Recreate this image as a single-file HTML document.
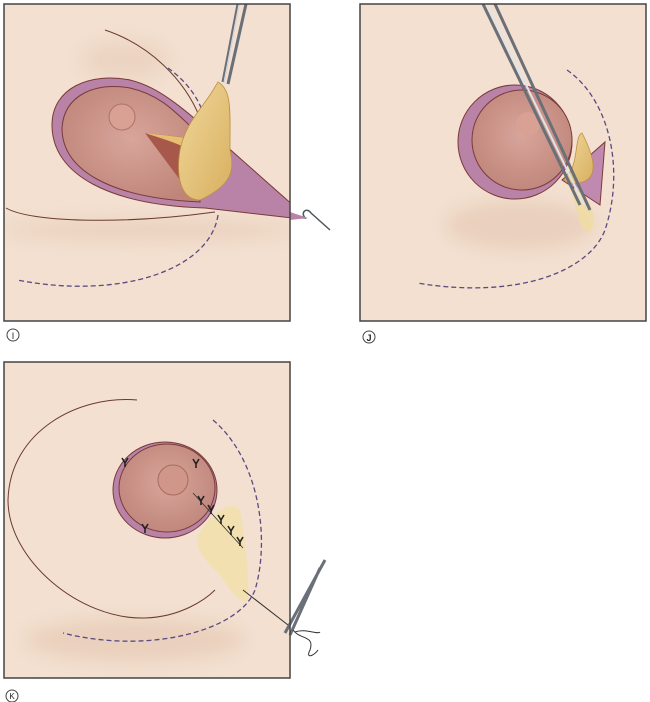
<!DOCTYPE html>
<html><head><style>
html,body{margin:0;padding:0;background:#fff;width:650px;height:702px;overflow:hidden}
svg{display:block}
text{font-family:"Liberation Sans",sans-serif}
</style></head><body>
<svg width="650" height="702" viewBox="0 0 650 702" xmlns="http://www.w3.org/2000/svg">
<defs>
<filter id="b4" x="-50%" y="-200%" width="200%" height="500%"><feGaussianBlur stdDeviation="9"/></filter>
<radialGradient id="ar" cx="0.5" cy="0.45" r="0.6"><stop offset="0" stop-color="#d8a59a"/><stop offset="1" stop-color="#bf857a"/></radialGradient>
<linearGradient id="fat" x1="0" y1="0" x2="1" y2="1"><stop offset="0" stop-color="#f0d79a"/><stop offset="1" stop-color="#d8b060"/></linearGradient>
<clipPath id="cI"><rect x="4" y="4" width="286" height="317"/></clipPath>
<clipPath id="cJ"><rect x="360" y="4" width="286" height="317"/></clipPath>
<clipPath id="cK"><rect x="4" y="362" width="286" height="316"/></clipPath>
</defs>

<!-- Panel I -->
<rect x="4" y="4" width="286" height="317" fill="#f3e0d0"/>
<g clip-path="url(#cI)">
<ellipse cx="150" cy="230" rx="150" ry="10" fill="#ead0bd" filter="url(#b4)"/>
<ellipse cx="125" cy="60" rx="45" ry="20" fill="#ecd4c2" filter="url(#b4)"/>
<path d="M105,30 C150,45 185,80 200,118" fill="none" stroke="#6a3a30" stroke-width="1"/>
<path d="M6,208 C30,222 120,225 215,212" fill="none" stroke="#6a3a30" stroke-width="1"/>
<path d="M168,68 C182,78 195,92 202,110" fill="none" stroke="#5a4a80" stroke-width="1.3" stroke-dasharray="5,3"/>
<path d="M218,215 C210,270 120,300 17,280" fill="none" stroke="#5a4a80" stroke-width="1.3" stroke-dasharray="5,3"/>
<path d="M310,220 L205,208 C110,205 52,175 52,125 C52,88 90,72 130,80 C170,90 195,120 310,220 Z" fill="#b983a8" stroke="#7a3a38" stroke-width="1"/>
<path d="M200,202 C110,198 62,170 62,128 C64,95 95,82 130,88 C165,96 180,118 200,135 Z" fill="url(#ar)" stroke="#7a3a38" stroke-width="1"/>
<path d="M145,133 L190,138 L195,200 Z" fill="#a8584a"/>
<path d="M145,133 C160,138 175,142 190,150 L188,138 Z" fill="#e6c070"/>
<circle cx="122" cy="117" r="13" fill="#d9a094" stroke="#b0706a" stroke-width="1"/>
<path d="M218,82 C232,90 230,110 230,150 C235,170 232,185 200,200 C180,200 176,175 180,150 C185,125 200,110 210,95 Z" fill="url(#fat)" stroke="#c09040" stroke-width="0.8"/>
<path d="M223,82 L238,4 M228,84 L246,4" stroke="#6a6f78" stroke-width="3"/>
<path d="M224,82 L239,4" stroke="#d8dde2" stroke-width="1"/>
</g>
<path d="M290,217 L305,218 C300,212 307,207 311,213 L330,230" fill="none" stroke="#505860" stroke-width="1.5"/>
<path d="M290,212 L308,218 L290,220 Z" fill="#b983a8"/>
<rect x="4" y="4" width="286" height="317" fill="none" stroke="#444" stroke-width="1.5"/>
<circle cx="13" cy="335" r="6" fill="none" stroke="#444" stroke-width="1"/>
<text x="13" y="339" font-size="9" text-anchor="middle" fill="#222">I</text>

<!-- Panel J -->
<rect x="360" y="4" width="286" height="317" fill="#f3e0d0"/>
<g clip-path="url(#cJ)">
<ellipse cx="520" cy="225" rx="75" ry="25" fill="#ead0bd" filter="url(#b4)"/>
<path d="M567,70 C610,100 625,170 605,230 C590,270 520,300 417,283" fill="none" stroke="#5a4a80" stroke-width="1.3" stroke-dasharray="5,3"/>
<circle cx="515" cy="142" r="57" fill="#b983a8" stroke="#7a3a38" stroke-width="1"/>
<circle cx="522" cy="140" r="50" fill="url(#ar)" stroke="#7a3a38" stroke-width="1"/>
<path d="M562,180 L605,142 L600,205 Z" fill="#c08ab0" stroke="#7a3a38" stroke-width="1"/>
<circle cx="528" cy="124" r="12" fill="#d9a094"/>
<path d="M575,185 C590,200 600,220 590,232 C582,235 578,215 572,195 Z" fill="#f0dca0" opacity="0.8"/>
<path d="M578,183 C600,180 595,158 582,133 C575,135 578,160 570,172 C562,178 562,185 578,183 Z" fill="url(#fat)" stroke="#c09040" stroke-width="0.8"/>
<path d="M483,4 L580,205 M495,4 L590,210" stroke="#6a6f78" stroke-width="3"/>
<path d="M487,4 L584,205" stroke="#e0e4e8" stroke-width="2"/>
</g>
<rect x="360" y="4" width="286" height="317" fill="none" stroke="#444" stroke-width="1.5"/>
<circle cx="369" cy="337" r="6" fill="none" stroke="#444" stroke-width="1"/>
<text x="369" y="341" font-size="9" font-weight="bold" text-anchor="middle" fill="#222">J</text>

<!-- Panel K -->
<rect x="4" y="362" width="286" height="316" fill="#f3e0d0"/>
<g clip-path="url(#cK)">
<ellipse cx="135" cy="640" rx="110" ry="22" fill="#ead0bd" filter="url(#b4)"/>
<path d="M137,400 C80,395 10,430 8,500 C8,560 80,620 145,618 C180,617 205,600 215,590" fill="none" stroke="#6a3a30" stroke-width="1"/>
<path d="M213,420 C260,460 270,540 255,590 C240,630 150,655 63,633" fill="none" stroke="#5a4a80" stroke-width="1.3" stroke-dasharray="5,3"/>
<path d="M198,535 C215,510 230,500 240,510 C245,540 250,580 248,600 C240,605 230,590 220,575 C205,560 195,550 198,535 Z" fill="#f2e0a8" opacity="0.8"/>
<ellipse cx="165" cy="490" rx="52" ry="48" fill="#b983a8" stroke="#7a3a38" stroke-width="1"/>
<ellipse cx="167" cy="488" rx="48" ry="44" fill="url(#ar)" stroke="#7a3a38" stroke-width="1"/>
<circle cx="173" cy="480" r="15" fill="#d0968a" stroke="#a86a60" stroke-width="1"/>
<path d="M193,493 L243,548" stroke="#333" stroke-width="0.8"/>
<g fill="none" stroke="#222" stroke-width="1.6">
<path d="M122,458 l3,5 l3,-5 M125,463 l0,4"/>
<path d="M193,459 l3,5 l3,-5 M196,464 l0,4"/>
<path d="M198,496 l3,5 l3,-5 M201,501 l0,4"/>
<path d="M208,505 l3,5 l3,-5 M211,510 l0,4"/>
<path d="M218,515 l3,5 l3,-5 M221,520 l0,4"/>
<path d="M228,526 l3,5 l3,-5 M231,531 l0,4"/>
<path d="M237,537 l3,5 l3,-5 M240,542 l0,4"/>
<path d="M142,524 l3,5 l3,-5 M145,529 l0,4"/>
</g>
<path d="M243,590 L288,625" stroke="#333" stroke-width="1"/>
</g>
<path d="M325,560 L285,633 M320,568 L290,635" stroke="#6a6f78" stroke-width="3"/>
<path d="M293,630 C300,640 315,635 310,650 C305,660 315,655 318,650 M295,632 C305,628 318,635 320,632" fill="none" stroke="#333" stroke-width="1"/>
<rect x="4" y="362" width="286" height="316" fill="none" stroke="#444" stroke-width="1.5"/>
<circle cx="12" cy="696" r="6" fill="none" stroke="#444" stroke-width="1"/>
<text x="12" y="699" font-size="8" text-anchor="middle" fill="#222">K</text>
</svg>
</body></html>
